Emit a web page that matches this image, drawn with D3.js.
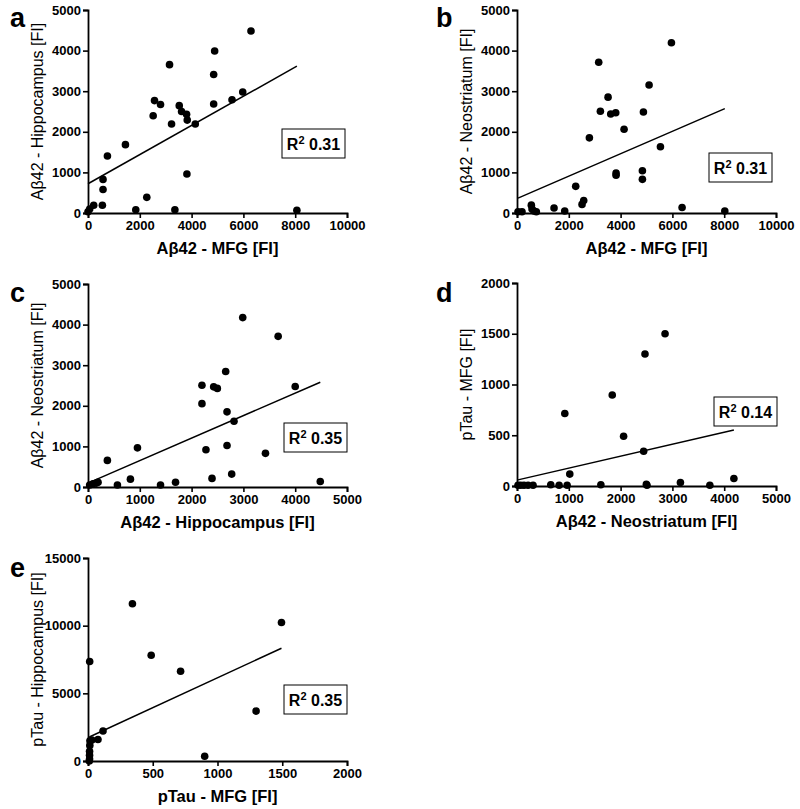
<!DOCTYPE html>
<html><head><meta charset="utf-8">
<script src="https://cdn.jsdelivr.net/npm/d3@7/dist/d3.min.js"></script>
<style>body{margin:0;background:#fff}svg{display:block}text{font-family:"Liberation Sans",Arial,sans-serif}</style>
</head><body>
<script>
// ---- data ----
const pointsA = [[0,30],[65,100],[220,190],[555,192],[580,577],[580,827],[750,1404],[1445,1683],[1845,77],[2270,385],[2516,2394],[2568,2769],[2800,2673],[3148,3654],[3226,2192],[3355,77],[3523,2644],[3613,2500],[3806,2433],[3832,2288],[3819,962],[4142,2192],[4852,2683],[4852,3413],[4890,3990],[5561,2788],[5974,2981],[6293,4483],[8065,67]];
const pointsB = [[39,29],[193,29],[554,193],[580,96],[657,48],[747,29],[1430,125],[1842,48],[2267,656],[2511,212],[2576,309],[2795,1851],[3155,3713],[3219,2507],[3516,2854],[3619,2440],[3812,2469],[3825,985],[3825,930],[4134,2064],[4842,1041],[4842,829],[4881,2488],[5100,3153],[5538,1630],[5962,4195],[6374,135],[8023,48]];
const pointsC = [[32,48],[97,77],[161,96],[194,116],[374,655],[568,48],[819,193],[955,964],[1400,48],[1690,116],[2200,2506],[2200,2053],[2277,916],[2394,212],[2426,2467],[2497,2429],[2658,2843],[2684,1851],[2684,1022],[2774,318],[2819,1619],[2987,4173],[3426,829],[3671,3711],[4000,2477],[4484,135]];
const pointsD = [[19,8],[71,8],[135,8],[213,8],[310,8],[652,12],[813,8],[923,715],[968,8],[1019,117],[1619,12],[1839,897],[2058,490],[2445,342],[2471,1301],[2497,16],[2510,8],[2858,1500],[3155,35],[3723,8],[4187,74]];
const pointsE = [[13,7349],[10,0],[12,144],[12,432],[12,720],[14,1153],[15,1500],[30,1550],[77,1585],[116,2219],[343,11614],[488,7810],[715,6628],[901,346],[1298,3689],[1494,10231]];
// fitted lines: [intercept, slope]
const fitA = [720, 0.359];
const fitB = [357, 0.276];
const fitC = [96, 0.554];
const fitD = [58, 0.118];
const fitE = [1729, 4.42];
const r2Labels = ["0.31","0.31","0.35","0.14","0.35"];
const panelLetters = ["a","b","c","d","e"];
const xTitles = ["Aβ42 - MFG [FI]","Aβ42 - MFG [FI]","Aβ42 - Hippocampus [FI]","Aβ42 - Neostriatum [FI]","pTau - MFG [FI]"];
const yTitles = ["Aβ42 - Hippocampus [FI]","Aβ42 - Neostriatum [FI]","Aβ42 - Neostriatum [FI]","pTau - MFG [FI]","pTau - Hippocampus [FI]"];
const xTicksA = [0,2000,4000,6000,8000,10000];
const xTicksC = [0,1000,2000,3000,4000,5000];
const xTicksE = [0,500,1000,1500,2000];
const yTicksA = [0,1000,2000,3000,4000,5000];
const yTicksD = [0,500,1000,1500,2000];
const yTicksE = [0,5000,10000,15000];

// ---- layout ----
const W = 800, H = 809, PW = 259, PH = 203;
const panels = [
  {pts:pointsA, fit:fitA, xt:xTicksA, yt:yTicksA, left:88, top:10, box:[194,119], lab:[10,27]},
  {pts:pointsB, fit:fitB, xt:xTicksA, yt:yTicksA, left:517, top:10, box:[192,143], lab:[436,27]},
  {pts:pointsC, fit:fitC, xt:xTicksC, yt:yTicksA, left:88, top:284, box:[196,139], lab:[10,302]},
  {pts:pointsD, fit:fitD, xt:xTicksC, yt:yTicksD, left:517, top:283, box:[197,114], lab:[436,302]},
  {pts:pointsE, fit:fitE, xt:xTicksE, yt:yTicksE, left:88, top:558, box:[196,127], lab:[10,577]}
];

const svg = d3.select("body").append("svg").attr("width",W).attr("height",H);

panels.forEach((p,i)=>{
  const x = d3.scaleLinear().domain(d3.extent(p.xt)).range([p.left, p.left+PW]);
  const y = d3.scaleLinear().domain(d3.extent(p.yt)).range([p.top+PH, p.top]);
  const g = svg.append("g");

  g.append("text").attr("x",p.lab[0]).attr("y",p.lab[1]).attr("font-size",27).attr("font-weight","bold").text(panelLetters[i]);

  const xa = g.append("g").attr("transform",`translate(0,${p.top+PH})`)
    .call(d3.axisBottom(x).tickValues(p.xt).tickSize(5).tickPadding(3).tickFormat(d3.format("d")));
  const ya = g.append("g").attr("transform",`translate(${p.left},0)`)
    .call(d3.axisLeft(y).tickValues(p.yt).tickSize(5).tickPadding(2).tickFormat(d3.format("d")));
  [xa,ya].forEach(a=>{
    a.select(".domain").attr("stroke","#000").attr("stroke-width",1.8);
    a.selectAll(".tick line").attr("stroke","#000").attr("stroke-width",1.6);
    a.selectAll(".tick text").attr("fill","#000").attr("font-size",13).attr("font-weight","bold")
      .attr("font-family","'Liberation Sans',Arial,sans-serif");
  });

  g.append("text").attr("x",p.left+PW/2).attr("y",p.top+PH+41).attr("text-anchor","middle")
    .attr("font-size",16.5).attr("font-weight","bold").text(xTitles[i]);
  g.append("text").attr("transform",`translate(${p.left-45},${p.top+PH/2}) rotate(-90)`)
    .attr("text-anchor","middle").attr("font-size",16).text(yTitles[i]);

  const ext = d3.extent(p.pts, d=>d[0]);
  g.append("line").attr("x1",x(ext[0])).attr("y1",y(p.fit[0]+p.fit[1]*ext[0]))
    .attr("x2",x(ext[1])).attr("y2",y(p.fit[0]+p.fit[1]*ext[1]))
    .attr("stroke","#000").attr("stroke-width",1.5);

  g.selectAll("circle").data(p.pts).join("circle")
    .attr("cx",d=>x(d[0])).attr("cy",d=>y(d[1])).attr("r",3.8).attr("fill","#000");

  const bx = p.left+p.box[0], by = p.top+p.box[1];
  g.append("rect").attr("x",bx).attr("y",by).attr("width",63).attr("height",29)
    .attr("fill","#fff").attr("stroke","#000").attr("stroke-width",1);
  const t = g.append("text").attr("x",bx+31.5).attr("y",by+21).attr("text-anchor","middle")
    .attr("font-size",16).attr("font-weight","bold");
  t.append("tspan").text("R");
  t.append("tspan").attr("font-size",11).attr("dy",-6).text("2");
  t.append("tspan").attr("dy",6).text(" " + r2Labels[i]);
});
</script>
</body></html>
